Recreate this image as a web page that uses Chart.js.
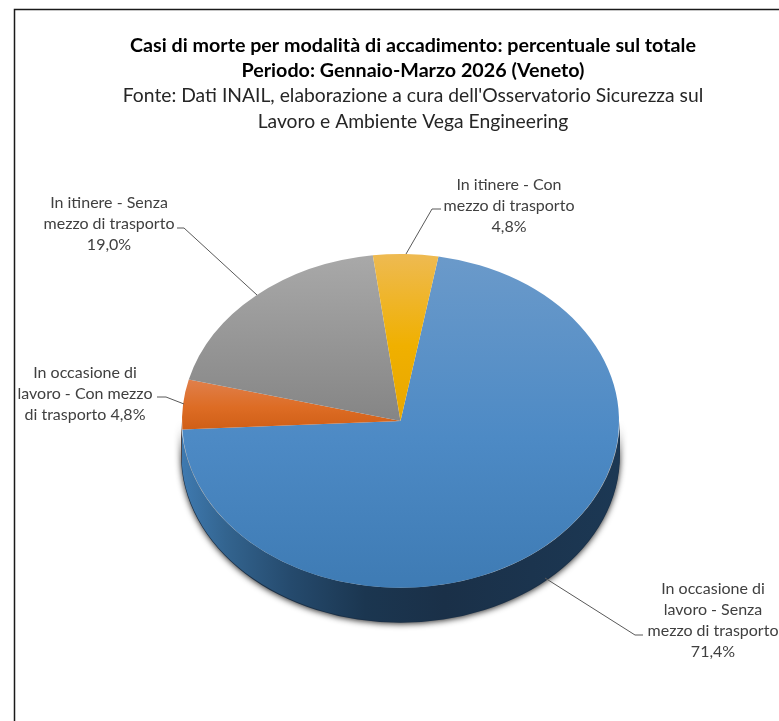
<!DOCTYPE html>
<html><head><meta charset="utf-8">
<style>html,body{margin:0;padding:0;background:#fff;overflow:hidden}#w{position:relative;width:779px;height:721px}</style>
<script src="https://cdn.jsdelivr.net/npm/chart.js@4"></script>
</head><body><div id="w"><canvas id="c"></canvas></div>
<script>
const categories = ["In occasione di lavoro - Senza mezzo di trasporto","In occasione di lavoro - Con mezzo di trasporto","In itinere - Senza mezzo di trasporto","In itinere - Con mezzo di trasporto"];
const values = [71.4, 4.8, 19.0, 4.8];
const labelLines = [
  ["In occasione di","lavoro - Senza","mezzo di trasporto","%v"],
  ["In occasione di","lavoro - Con mezzo","di trasporto %v"],
  ["In itinere - Senza","mezzo di trasporto","%v"],
  ["In itinere - Con","mezzo di trasporto","%v"]
];
const titleLines = ["Casi di morte per modalità di accadimento: percentuale sul totale","Periodo: Gennaio-Marzo 2026 (Veneto)"];
const subtitleLines = ["Fonte: Dati INAIL, elaborazione a cura dell'Osservatorio Sicurezza sul","Lavoro e Ambiente Vega Engineering"];

// Layout and style constants
const FONT = "Lato, 'Open Sans', sans-serif";
const TILT = 0.764, DEPTH = 34, PIE_DX = -12.5;
const labelBoxes = [{x:713,y:594},{x:85,y:378},{x:109,y:208},{x:509,y:190}];
const leaders = [
  [[643,635],[635,635],[545,578]],
  [[157,397],[166,397],[184,404]],
  [[177,228],[184,228],[257,295]],
  [[441,209],[432,209],[406,254]]
];
const topColors = [["#6b9aca","#4d8ac5","#3e7bb4"],["#e07f4a","#dd6c24","#d05f17"],["#a9a9a9","#959595","#858585"],["#eeba52","#f0b000","#e8a700"]];
const gradientSpan = [[-1,1],[-0.24,0.05],[-1,0],[-1,0]];

function fillFor(ctx){
  const chart = ctx.chart, a = chart.chartArea, i = ctx.dataIndex;
  if(!a || i===undefined) return topColors[i||0][1];
  const cy=(a.top+a.bottom)/2, r=218.5;
  const g = chart.ctx.createLinearGradient(0,cy+gradientSpan[i][0]*r,0,cy+gradientSpan[i][1]*r);
  g.addColorStop(0,topColors[i][0]);
  g.addColorStop(0.55,topColors[i][1]);
  g.addColorStop(1,topColors[i][2]);
  return g;
}
const sideGradient = (c,x0,x1)=>{
  const g=c.createLinearGradient(x0,0,x1,0);
  g.addColorStop(0,"#3f7ab0");g.addColorStop(0.1,"#33648f");g.addColorStop(0.25,"#254a6d");
  g.addColorStop(0.42,"#1b3650");g.addColorStop(0.6,"#1a3048");g.addColorStop(1,"#1c3854");
  return g;
};
const tilt3d = {
  id:"tilt3d",
  beforeDatasetsDraw(chart){
    const c=chart.ctx, arcs=chart.getDatasetMeta(0).data, {x:ax,y:cy,outerRadius:r}=arcs[0];
    const cx=ax+PIE_DX, ry=r*TILT;
    c.save();
    // shadow around the side wall
    c.save();
    c.shadowColor="rgba(0,0,0,0.85)";c.shadowBlur=6;c.shadowOffsetX=0;c.shadowOffsetY=1;
    c.fillStyle="#1a3048";
    c.beginPath();c.ellipse(cx,cy,r+1,ry+1,0,0,Math.PI);c.ellipse(cx,cy+DEPTH,r+1,ry+1,0,Math.PI,0,true);c.closePath();c.fill();
    c.restore();
    // side walls of the visible slices
    const wall=["",'#b5561a','#6f6f6f','#a87a00'];
    arcs.forEach((el,i)=>{
      const norm=a=>{while(a<0)a+=2*Math.PI;while(a>2*Math.PI)a-=2*Math.PI;return a;};
      let s=norm(el.startAngle), e=s+(el.endAngle-el.startAngle);
      [[s,e],[s-2*Math.PI,e-2*Math.PI]].forEach(([p,q])=>{
        const a0=Math.max(p,0),a1=Math.min(q,Math.PI);
        if(a1<=a0) return;
        c.fillStyle=i===0?sideGradient(c,cx-r,cx+r):wall[i];
        c.beginPath();c.ellipse(cx,cy,r+0.5,ry,0,a0,a1);c.ellipse(cx,cy+DEPTH,r+0.5,ry,0,a1,a0,true);c.closePath();c.fill();
      });
    });
    c.translate(PIE_DX,0);
    c.translate(ax,cy);c.scale(1,TILT);c.translate(-ax,-cy);
  },
  afterDatasetsDraw(chart){
    const c=chart.ctx;
    c.restore();
    // data labels and leader lines
    c.font="16px "+FONT;c.textAlign="center";c.textBaseline="alphabetic";
    labelLines.forEach((lines,i)=>{
      const txt=values[i].toFixed(1).replace(".",",")+"%";
      c.fillStyle="#404040";
      lines.forEach((l,n)=>c.fillText(l.replace("%v",txt),labelBoxes[i].x,labelBoxes[i].y+n*21));
      c.strokeStyle="#595959";c.lineWidth=1;c.beginPath();
      leaders[i].forEach((p,n)=>n?c.lineTo(p[0],p[1]):c.moveTo(p[0],p[1]));c.stroke();
    });
  }
};
const frame = {id:"frame",beforeDraw(chart){
  const c=chart.ctx;c.save();c.fillStyle="#fff";c.fillRect(0,0,779,721);
  c.strokeStyle="#1a1a1a";c.lineWidth=1.5;c.beginPath();c.moveTo(14.5,730);c.lineTo(14.5,9.5);c.lineTo(790,9.5);c.stroke();c.restore();
}};
new Chart(document.getElementById("c"),{
  type:"pie",
  data:{labels:categories,datasets:[{data:values,backgroundColor:fillFor,borderWidth:0,hoverOffset:0,radius:218.5}]},
  plugins:[frame,tilt3d],
  options:{
    responsive:true,maintainAspectRatio:false,animation:false,rotation:10,
    layout:{padding:{left:47,right:0,top:33,bottom:14}},
    plugins:{
      legend:{display:false},tooltip:{enabled:false},
      title:{display:true,text:titleLines,color:"#000",font:{family:FONT,size:19.7,weight:"bold",lineHeight:1.27},padding:{top:0,bottom:0}},
      subtitle:{display:true,text:subtitleLines,color:"#262626",font:{family:FONT,size:19.3,weight:"normal",lineHeight:1.34},padding:{top:0,bottom:0}}
    }
  }
});
</script></body></html>
